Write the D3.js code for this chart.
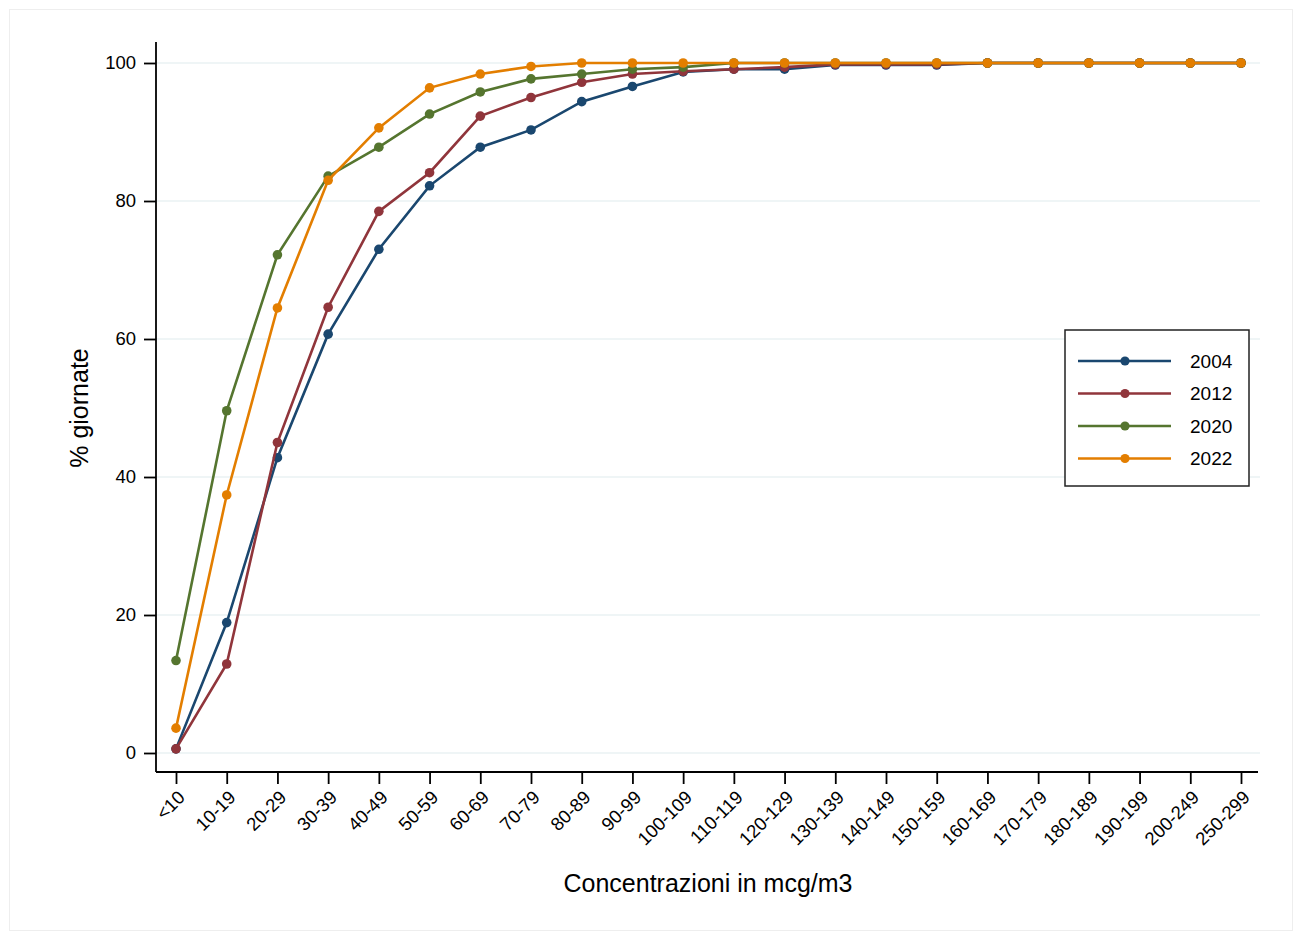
<!DOCTYPE html>
<meta charset="utf-8">
<style>
  body { margin: 0; background: #fff; }
  svg text { font-family: "Liberation Sans", Arial, Helvetica, sans-serif; fill: #000; }
</style>
<body>
<div id="my_dataviz"></div>
<script src="https://d3js.org/d3.v7.min.js"></script>
<script>

// categories on the x axis
var categories = ["<10", "10-19", "20-29", "30-39", "40-49", "50-59", "60-69", "70-79",
  "80-89", "90-99", "100-109", "110-119", "120-129", "130-139", "140-149", "150-159",
  "160-169", "170-179", "180-189", "190-199", "200-249", "250-299"];

// cumulative % of days, one list per year
var v2004 = [0.6, 18.9, 42.8, 60.7, 73.0, 82.2, 87.8, 90.3, 94.4, 96.6, 98.7, 99.1,
  99.1, 99.7, 99.7, 99.7, 100, 100, 100, 100, 100, 100];
var v2012 = [0.6, 12.9, 45.0, 64.6, 78.5, 84.1, 92.3, 95.0, 97.2, 98.4, 98.8, 99.1,
  99.4, 99.8, 99.8, 99.8, 100, 100, 100, 100, 100, 100];
var v2020 = [13.4, 49.6, 72.2, 83.6, 87.8, 92.6, 95.8, 97.7, 98.4, 99.1, 99.4, 100,
  100, 100, 100, 100, 100, 100, 100, 100, 100, 100];
var v2022 = [3.6, 37.4, 64.5, 83.0, 90.6, 96.4, 98.4, 99.5, 100, 100, 100, 100,
  100, 100, 100, 100, 100, 100, 100, 100, 100, 100];

var years = ["2004", "2012", "2020", "2022"];
var colors = ["#1a476f", "#90353b", "#55752f", "#e37e00"];
var yTicks = [0, 20, 40, 60, 80, 100];

var series = [v2004, v2012, v2020, v2022].map(function(vals, i) {
  return { name: years[i], color: colors[i], values: vals };
});

var W = 1293, H = 940;
var margin = {top: 42, right: 33, bottom: 168, left: 156},
    width = W - margin.left - margin.right,
    height = H - margin.top - margin.bottom;

var svgRoot = d3.select("#my_dataviz")
  .append("svg")
    .attr("width", W)
    .attr("height", H);

// faint outer frame
svgRoot.append("rect")
  .attr("x", 9.5).attr("y", 9.5)
  .attr("width", W - 10).attr("height", H - 19)
  .attr("fill", "none")
  .attr("stroke", "#eeeeee");

var svg = svgRoot.append("g")
  .attr("transform", "translate(" + margin.left + "," + margin.top + ")");

// x: categorical points
var x = d3.scalePoint()
  .domain(categories)
  .range([20, 1085]);

// y
var y = d3.scaleLinear()
  .domain([0, 100])
  .range([711, 21]);

// gridlines
svg.append("g")
  .selectAll("line")
  .data(yTicks)
  .enter()
  .append("line")
    .attr("x1", 0)
    .attr("x2", width)
    .attr("y1", function(d) { return y(d); })
    .attr("y2", function(d) { return y(d); })
    .attr("stroke", "#eaf2f3")
    .attr("stroke-width", 1.5);

// y axis
var yAxis = svg.append("g")
  .call(d3.axisLeft(y).tickValues(yTicks).tickSize(12).tickPadding(8));
yAxis.select(".domain").attr("d", "M0,0V" + height).attr("stroke-width", 1.8);
yAxis.selectAll(".tick line").attr("stroke-width", 1.8);
yAxis.selectAll("text").style("font-size", "18.5px");

// x axis
var xAxis = svg.append("g")
  .attr("transform", "translate(0," + height + ")")
  .call(d3.axisBottom(x).tickSize(12).tickPadding(4));
xAxis.select(".domain").attr("d", "M0,0H" + (width - 2)).attr("stroke-width", 1.8);
xAxis.selectAll(".tick line").attr("stroke-width", 1.8);
xAxis.selectAll("text")
  .style("font-size", "18.5px")
  .style("text-anchor", "end")
  .attr("y", 0)
  .attr("dy", "0.35em")
  .attr("transform", "translate(5,22)rotate(-45)");

// axis titles
svg.append("text")
  .attr("x", 552)
  .attr("y", height + 120)
  .attr("text-anchor", "middle")
  .style("font-size", "25px")
  .text("Concentrazioni in mcg/m3");

svg.append("text")
  .attr("transform", "translate(-77," + y(50) + ")rotate(-90)")
  .attr("text-anchor", "middle")
  .attr("dy", "0.35em")
  .style("font-size", "25px")
  .text("% giornate");

// lines and markers
var line = d3.line()
  .x(function(d, i) { return x(categories[i]); })
  .y(function(d) { return y(d); });

series.forEach(function(s) {
  var g = svg.append("g");
  g.append("path")
    .datum(s.values)
    .attr("d", line)
    .attr("fill", "none")
    .attr("stroke", s.color)
    .attr("stroke-width", 2.6);
  g.selectAll("circle")
    .data(s.values)
    .enter()
    .append("circle")
      .attr("cx", function(d, i) { return x(categories[i]); })
      .attr("cy", function(d) { return y(d); })
      .attr("r", 4.8)
      .attr("fill", s.color);
});

// legend
var legend = svg.append("g")
  .attr("transform", "translate(909,288)");
legend.append("rect")
  .attr("width", 184)
  .attr("height", 156)
  .attr("fill", "#fff")
  .attr("stroke", "#222")
  .attr("stroke-width", 1.5);
series.forEach(function(s, i) {
  var ly = 31 + i * 32.5;
  legend.append("line")
    .attr("x1", 13).attr("x2", 106)
    .attr("y1", ly).attr("y2", ly)
    .attr("stroke", s.color)
    .attr("stroke-width", 2.6);
  legend.append("circle")
    .attr("cx", 60).attr("cy", ly)
    .attr("r", 4.6)
    .attr("fill", s.color);
  legend.append("text")
    .attr("x", 125).attr("y", ly)
    .attr("dy", "0.35em")
    .style("font-size", "19px")
    .text(s.name);
});

</script>
</body>
